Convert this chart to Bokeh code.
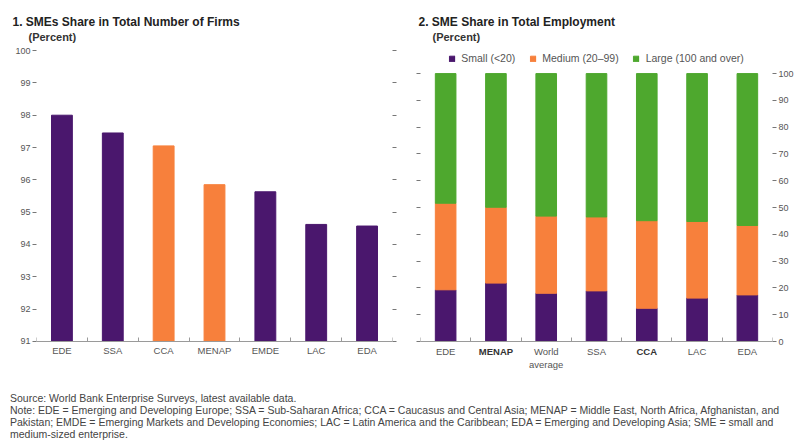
from bokeh.plotting import figure
from bokeh.models import (ColumnDataSource, LinearAxis, FixedTicker, Range1d, Title,
                          Legend, LegendItem, LabelSet, Div)
from bokeh.core.properties import value
from bokeh.layouts import row, column
from bokeh.embed import file_html
from bokeh.resources import INLINE

# ---------------- data ----------------
firm_regions = ["EDE", "SSA", "CCA", "MENAP", "EMDE", "LAC", "EDA"]
firm_share = [98.0, 97.45, 97.05, 95.85, 95.63, 94.62, 94.57]
highlight_regions = ["CCA", "MENAP"]
firm_ticks = list(range(91, 101))

emp_regions = ["EDE", "MENAP", "World\naverage", "SSA", "CCA", "LAC", "EDA"]
emp_small = [19.3, 21.8, 18.0, 18.9, 12.4, 16.2, 17.4]
emp_medium = [32.3, 28.3, 28.8, 27.6, 32.7, 28.6, 25.9]
emp_large = [48.4, 49.9, 53.2, 53.5, 54.9, 55.2, 56.7]
bold_regions = ["MENAP", "CCA"]
size_classes = ["Small (<20)", "Medium (20\u201399)", "Large (100 and over)"]
emp_ticks = list(range(0, 101, 10))

# ---------------- style ----------------
PURPLE = "#4A176D"
ORANGE = "#F7803C"
GREEN = "#4EA82E"
FONT = "Liberation Sans"
TICK_COLOR = "#777777"
LABEL_COLOR = "#555555"


def style_y_axis(ax, show_labels=True):
    ax.axis_line_color = None
    ax.major_tick_in = 0
    ax.major_tick_out = 4
    ax.minor_tick_line_color = None
    ax.major_tick_line_color = TICK_COLOR
    ax.major_label_standoff = 2
    ax.major_label_text_font = FONT
    ax.major_label_text_font_size = "9px"
    ax.major_label_text_color = LABEL_COLOR
    if not show_labels:
        ax.major_label_text_alpha = 0


def style_x_axis(ax, centers, n):
    ax.ticker = FixedTicker(ticks=centers, minor_ticks=list(range(0, n + 1)))
    ax.axis_line_color = "#9A9A9A"
    ax.major_tick_line_color = None
    ax.major_tick_in = 0
    ax.major_tick_out = 0
    ax.minor_tick_line_color = "#9A9A9A"
    ax.minor_tick_in = 4
    ax.minor_tick_out = 0
    ax.major_label_standoff = 4
    ax.major_label_text_font = FONT
    ax.major_label_text_font_size = "9.5px"
    ax.major_label_text_color = LABEL_COLOR


def add_titles(p, main, main_offset, sub_offset):
    p.title.text = main
    p.title.text_font = FONT
    p.title.text_font_size = "12px"
    p.title.text_font_style = "bold"
    p.title.text_color = "#222222"
    p.title.offset = main_offset
    p.title.standoff = 0
    p.add_layout(Title(text="(Percent)", text_font=FONT, text_font_size="11px",
                       text_font_style="bold", text_color="#333333",
                       offset=sub_offset, standoff=0), "above")


# Both frames span the same screen band; the x axes sit at the base value
# (fixed_location) and the category labels lie inside the lower frame margin.

# ---------------- panel 1 ----------------
n1 = len(firm_regions)
x1 = [i + 0.5 for i in range(n1)]
src1 = ColumnDataSource(dict(
    x=x1, top=firm_share,
    color=[ORANGE if r in highlight_regions else PURPLE for r in firm_regions]))
base1 = firm_ticks[0]

p1 = figure(output_backend="svg", toolbar_location=None,
            width=402, height=381,
            x_range=Range1d(0, n1), y_range=Range1d(89.79, 100.25),
            min_border_left=36, min_border_right=10, min_border_top=42,
            min_border_bottom=1, x_axis_location=None)
add_titles(p1, "1. SMEs Share in Total Number of Firms", -24, -8)

p1.vbar(x="x", top="top", bottom=base1, width=0.41, color="color", source=src1)

p1.yaxis.ticker = FixedTicker(ticks=firm_ticks)
p1.add_layout(LinearAxis(ticker=FixedTicker(ticks=firm_ticks)), "right")
style_y_axis(p1.left[0])
style_y_axis(p1.right[0], show_labels=False)
xax1 = LinearAxis(fixed_location=base1)
style_x_axis(xax1, x1, n1)
xax1.major_label_overrides = {x: r for x, r in zip(x1, firm_regions)}
p1.add_layout(xax1, "below")
p1.grid.visible = False
p1.outline_line_color = None

# ---------------- panel 2 ----------------
n2 = len(emp_regions)
x2 = [i + 0.5 for i in range(n2)]
src2 = ColumnDataSource(dict(x=x2, small=emp_small, medium=emp_medium, large=emp_large))

p2 = figure(output_backend="svg", toolbar_location=None,
            width=394, height=381,
            x_range=Range1d(0, n2), y_range=Range1d(-14.55, 111.6),
            min_border_left=18, min_border_right=23, min_border_top=42,
            min_border_bottom=1, y_axis_location="right", x_axis_location=None)
add_titles(p2, "2. SME Share in Total Employment", -2, 12)

rs = p2.vbar_stack(["small", "medium", "large"], x="x", width=0.41,
                   color=[PURPLE, ORANGE, GREEN], source=src2)

p2.yaxis.ticker = FixedTicker(ticks=emp_ticks)
p2.add_layout(LinearAxis(ticker=FixedTicker(ticks=emp_ticks)), "left")
style_y_axis(p2.right[0])
style_y_axis(p2.left[0], show_labels=False)

xax2 = LinearAxis(fixed_location=0)
style_x_axis(xax2, x2, n2)
xax2.major_label_overrides = {x: "" for x in x2}
p2.add_layout(xax2, "below")

# category labels (MENAP and CCA in bold), one row per text line
for style in ("normal", "bold"):
    xs, ys, texts, dys = [], [], [], []
    for i, r in enumerate(emp_regions):
        if (r in bold_regions) != (style == "bold"):
            continue
        for k, line in enumerate(r.split("\n")):
            xs.append(x2[i])
            ys.append(0)
            texts.append(line)
            dys.append(-4 - 13 * k)
    s = ColumnDataSource(dict(x=xs, y=ys, text=texts, dy=dys))
    p2.add_layout(LabelSet(x="x", y="y", text="text", y_offset="dy", source=s,
                           text_align="center", text_baseline="top",
                           text_font=value(FONT), text_font_size=value("9.5px"),
                           text_font_style=value(style),
                           text_color=LABEL_COLOR if style == "normal" else "#333333"))

legend = Legend(items=[LegendItem(label=lab, renderers=[r]) for lab, r in zip(size_classes, rs)],
                orientation="horizontal", location="top_center",
                label_text_font=FONT, label_text_font_size="10.5px",
                label_text_color=LABEL_COLOR, glyph_width=7, glyph_height=7,
                label_standoff=6, spacing=14, padding=0, margin=10,
                border_line_color=None, background_fill_alpha=0, label_height=10)
p2.add_layout(legend)
p2.grid.visible = False
p2.outline_line_color = None

# ---------------- notes ----------------
notes = Div(text=(
    "Source: World Bank Enterprise Surveys, latest available data.<br>"
    "Note: EDE = Emerging and Developing Europe; SSA = Sub-Saharan Africa; CCA = Caucasus and "
    "Central Asia; MENAP = Middle East, North Africa, Afghanistan, and<br>"
    "Pakistan; EMDE = Emerging Markets and Developing Economies; LAC = Latin America and the "
    "Caribbean; EDA = Emerging and Developing Asia; SME = small and<br>"
    "medium-sized enterprise."),
    width=785, height=50, margin=(11, 0, 0, 10),
    styles={"font-family": "'Liberation Sans', sans-serif",
            "font-size": "10.5px", "line-height": "12px", "color": "#444444",
            "white-space": "nowrap"})

layout = column(row(p1, p2), notes)
open("out.html", "w").write(file_html(layout, INLINE))
